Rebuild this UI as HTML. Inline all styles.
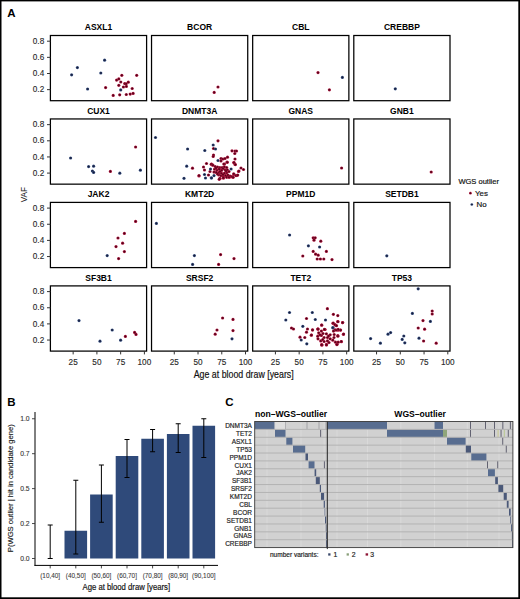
<!DOCTYPE html>
<html><head><meta charset="utf-8"><style>
html,body{margin:0;padding:0;background:#fff;}
svg{display:block;font-family:"Liberation Sans", sans-serif;}
</style></head><body>
<svg width="520" height="599" viewBox="0 0 520 599">
<defs>
<radialGradient id="gr"><stop offset="0" stop-color="#3c0012"/><stop offset="0.55" stop-color="#7a0a28"/><stop offset="1" stop-color="#b5153f"/></radialGradient>
<radialGradient id="gb"><stop offset="0" stop-color="#151a30"/><stop offset="0.55" stop-color="#24315a"/><stop offset="1" stop-color="#3a5688"/></radialGradient>
</defs>
<rect x="0" y="0" width="520" height="599" fill="#fff"/>
<rect x="0" y="0" width="1.5" height="599" fill="#000"/>
<rect x="0" y="0" width="520" height="1.4" fill="#000"/>
<rect x="518.3" y="0" width="1.7" height="599" fill="#000"/>
<rect x="0" y="597.3" width="520" height="1.7" fill="#000"/>
<text x="7.30" y="16.70" font-size="11.5" text-anchor="start" font-weight="bold" fill="#000" >A</text>
<text x="7.30" y="405.50" font-size="11.5" text-anchor="start" font-weight="bold" fill="#000" >B</text>
<text x="225.30" y="405.50" font-size="11.5" text-anchor="start" font-weight="bold" fill="#000" >C</text>
<text x="98.50" y="30.40" font-size="8.5" text-anchor="middle" font-weight="bold" fill="#000" >ASXL1</text>
<circle cx="71.6" cy="74.8" r="1.6" fill="url(#gb)"/>
<circle cx="77.4" cy="67.6" r="1.6" fill="url(#gb)"/>
<circle cx="104.6" cy="60.2" r="1.6" fill="url(#gb)"/>
<circle cx="100.8" cy="73.0" r="1.6" fill="url(#gb)"/>
<circle cx="87.6" cy="89.0" r="1.6" fill="url(#gb)"/>
<circle cx="105.6" cy="87.6" r="1.6" fill="url(#gr)"/>
<circle cx="121.8" cy="75.3" r="1.6" fill="url(#gr)"/>
<circle cx="136.7" cy="75.3" r="1.6" fill="url(#gr)"/>
<circle cx="116.6" cy="80.1" r="1.6" fill="url(#gr)"/>
<circle cx="118.8" cy="78.9" r="1.6" fill="url(#gr)"/>
<circle cx="120.8" cy="82.0" r="1.6" fill="url(#gr)"/>
<circle cx="118.8" cy="85.3" r="1.6" fill="url(#gr)"/>
<circle cx="124.7" cy="83.6" r="1.6" fill="url(#gr)"/>
<circle cx="126.2" cy="83.8" r="1.6" fill="url(#gr)"/>
<circle cx="128.3" cy="82.2" r="1.6" fill="url(#gr)"/>
<circle cx="126.4" cy="86.4" r="1.6" fill="url(#gr)"/>
<circle cx="123.4" cy="87.0" r="1.6" fill="url(#gr)"/>
<circle cx="132.2" cy="88.5" r="1.6" fill="url(#gr)"/>
<circle cx="113.2" cy="95.4" r="1.6" fill="url(#gr)"/>
<circle cx="119.7" cy="94.8" r="1.6" fill="url(#gr)"/>
<circle cx="126.3" cy="94.5" r="1.6" fill="url(#gr)"/>
<circle cx="130.2" cy="94.1" r="1.6" fill="url(#gr)"/>
<circle cx="133.1" cy="93.4" r="1.6" fill="url(#gr)"/>
<circle cx="120.7" cy="89.9" r="1.6" fill="url(#gb)"/>
<rect x="50.4" y="35.5" width="96.2" height="65.2" fill="none" stroke="#000" stroke-width="1.25"/>
<text x="199.63" y="30.40" font-size="8.5" text-anchor="middle" font-weight="bold" fill="#000" >BCOR</text>
<circle cx="218.0" cy="87.0" r="1.6" fill="url(#gr)"/>
<circle cx="214.2" cy="92.4" r="1.6" fill="url(#gr)"/>
<rect x="151.53" y="35.5" width="96.2" height="65.2" fill="none" stroke="#000" stroke-width="1.25"/>
<text x="300.77" y="30.40" font-size="8.5" text-anchor="middle" font-weight="bold" fill="#000" >CBL</text>
<circle cx="318.0" cy="72.6" r="1.6" fill="url(#gr)"/>
<circle cx="342.4" cy="77.4" r="1.6" fill="url(#gb)"/>
<circle cx="329.4" cy="89.8" r="1.6" fill="url(#gr)"/>
<rect x="252.67" y="35.5" width="96.2" height="65.2" fill="none" stroke="#000" stroke-width="1.25"/>
<text x="401.90" y="30.40" font-size="8.5" text-anchor="middle" font-weight="bold" fill="#000" >CREBBP</text>
<circle cx="395.3" cy="88.8" r="1.6" fill="url(#gb)"/>
<rect x="353.8" y="35.5" width="96.2" height="65.2" fill="none" stroke="#000" stroke-width="1.25"/>
<line x1="47.0" y1="41.20" x2="50.4" y2="41.20" stroke="#333" stroke-width="1"/>
<text x="44.20" y="43.80" font-size="8.2" text-anchor="end" font-weight="normal" fill="#282828" stroke="#282828" stroke-width="0.12" >0.8</text>
<line x1="47.0" y1="57.35" x2="50.4" y2="57.35" stroke="#333" stroke-width="1"/>
<text x="44.20" y="59.95" font-size="8.2" text-anchor="end" font-weight="normal" fill="#282828" stroke="#282828" stroke-width="0.12" >0.6</text>
<line x1="47.0" y1="73.50" x2="50.4" y2="73.50" stroke="#333" stroke-width="1"/>
<text x="44.20" y="76.10" font-size="8.2" text-anchor="end" font-weight="normal" fill="#282828" stroke="#282828" stroke-width="0.12" >0.4</text>
<line x1="47.0" y1="89.65" x2="50.4" y2="89.65" stroke="#333" stroke-width="1"/>
<text x="44.20" y="92.25" font-size="8.2" text-anchor="end" font-weight="normal" fill="#282828" stroke="#282828" stroke-width="0.12" >0.2</text>
<text x="98.50" y="113.85" font-size="8.5" text-anchor="middle" font-weight="bold" fill="#000" >CUX1</text>
<circle cx="70.6" cy="158.0" r="1.6" fill="url(#gb)"/>
<circle cx="88.6" cy="166.6" r="1.6" fill="url(#gb)"/>
<circle cx="93.6" cy="166.2" r="1.6" fill="url(#gb)"/>
<circle cx="92.4" cy="171.0" r="1.6" fill="url(#gb)"/>
<circle cx="93.6" cy="172.4" r="1.6" fill="url(#gb)"/>
<circle cx="110.4" cy="171.4" r="1.6" fill="url(#gr)"/>
<circle cx="119.8" cy="173.2" r="1.6" fill="url(#gb)"/>
<circle cx="135.6" cy="147.0" r="1.6" fill="url(#gr)"/>
<circle cx="140.4" cy="170.2" r="1.6" fill="url(#gb)"/>
<rect x="50.4" y="118.95" width="96.2" height="65.2" fill="none" stroke="#000" stroke-width="1.25"/>
<text x="199.63" y="113.85" font-size="8.5" text-anchor="middle" font-weight="bold" fill="#000" >DNMT3A</text>
<circle cx="155.5" cy="137.5" r="1.6" fill="url(#gb)"/>
<circle cx="187.6" cy="149.0" r="1.6" fill="url(#gb)"/>
<circle cx="186.7" cy="166.2" r="1.6" fill="url(#gb)"/>
<circle cx="192.5" cy="168.2" r="1.6" fill="url(#gr)"/>
<circle cx="199.0" cy="176.0" r="1.6" fill="url(#gr)"/>
<circle cx="184.0" cy="178.3" r="1.6" fill="url(#gb)"/>
<circle cx="218.0" cy="140.8" r="1.6" fill="url(#gr)"/>
<circle cx="213.2" cy="145.0" r="1.6" fill="url(#gb)"/>
<circle cx="213.5" cy="148.5" r="1.6" fill="url(#gr)"/>
<circle cx="215.5" cy="149.0" r="1.6" fill="url(#gb)"/>
<circle cx="204.8" cy="150.5" r="1.6" fill="url(#gb)"/>
<circle cx="213.5" cy="155.0" r="1.6" fill="url(#gr)"/>
<circle cx="213.2" cy="156.5" r="1.6" fill="url(#gr)"/>
<circle cx="232.0" cy="150.8" r="1.6" fill="url(#gr)"/>
<circle cx="235.0" cy="151.0" r="1.6" fill="url(#gr)"/>
<circle cx="236.5" cy="151.0" r="1.6" fill="url(#gr)"/>
<circle cx="234.8" cy="153.5" r="1.6" fill="url(#gr)"/>
<circle cx="221.0" cy="158.5" r="1.6" fill="url(#gr)"/>
<circle cx="223.0" cy="159.0" r="1.6" fill="url(#gr)"/>
<circle cx="227.5" cy="157.2" r="1.6" fill="url(#gr)"/>
<circle cx="225.0" cy="158.5" r="1.6" fill="url(#gr)"/>
<circle cx="218.0" cy="160.5" r="1.6" fill="url(#gb)"/>
<circle cx="221.0" cy="161.0" r="1.6" fill="url(#gr)"/>
<circle cx="235.0" cy="159.0" r="1.6" fill="url(#gr)"/>
<circle cx="233.8" cy="162.5" r="1.6" fill="url(#gr)"/>
<circle cx="235.0" cy="164.5" r="1.6" fill="url(#gr)"/>
<circle cx="227.0" cy="162.0" r="1.6" fill="url(#gr)"/>
<circle cx="224.5" cy="164.0" r="1.6" fill="url(#gr)"/>
<circle cx="206.5" cy="163.5" r="1.6" fill="url(#gr)"/>
<circle cx="211.5" cy="164.0" r="1.6" fill="url(#gr)"/>
<circle cx="212.5" cy="165.0" r="1.6" fill="url(#gr)"/>
<circle cx="203.5" cy="167.0" r="1.6" fill="url(#gr)"/>
<circle cx="204.5" cy="170.0" r="1.6" fill="url(#gr)"/>
<circle cx="210.0" cy="171.5" r="1.6" fill="url(#gr)"/>
<circle cx="241.0" cy="168.0" r="1.6" fill="url(#gr)"/>
<circle cx="243.5" cy="169.5" r="1.6" fill="url(#gr)"/>
<circle cx="238.5" cy="171.5" r="1.6" fill="url(#gr)"/>
<circle cx="208.5" cy="175.0" r="1.6" fill="url(#gr)"/>
<circle cx="199.0" cy="175.5" r="1.6" fill="url(#gr)"/>
<circle cx="234.0" cy="174.5" r="1.6" fill="url(#gr)"/>
<circle cx="237.0" cy="175.5" r="1.6" fill="url(#gr)"/>
<circle cx="233.0" cy="177.0" r="1.6" fill="url(#gr)"/>
<circle cx="220.0" cy="178.5" r="1.6" fill="url(#gr)"/>
<circle cx="223.5" cy="178.0" r="1.6" fill="url(#gr)"/>
<circle cx="228.0" cy="176.0" r="1.6" fill="url(#gr)"/>
<circle cx="230.0" cy="177.0" r="1.6" fill="url(#gr)"/>
<circle cx="211.2" cy="164.3" r="1.6" fill="url(#gr)"/>
<circle cx="212.9" cy="165.2" r="1.6" fill="url(#gr)"/>
<circle cx="215.2" cy="166.5" r="1.6" fill="url(#gr)"/>
<circle cx="217.5" cy="167.0" r="1.6" fill="url(#gr)"/>
<circle cx="219.8" cy="167.5" r="1.6" fill="url(#gr)"/>
<circle cx="222.1" cy="167.5" r="1.6" fill="url(#gr)"/>
<circle cx="224.4" cy="166.9" r="1.6" fill="url(#gr)"/>
<circle cx="226.7" cy="167.5" r="1.6" fill="url(#gr)"/>
<circle cx="214.6" cy="169.2" r="1.6" fill="url(#gr)"/>
<circle cx="216.9" cy="170.1" r="1.6" fill="url(#gr)"/>
<circle cx="219.2" cy="169.2" r="1.6" fill="url(#gr)"/>
<circle cx="221.5" cy="170.4" r="1.6" fill="url(#gr)"/>
<circle cx="225.0" cy="169.8" r="1.6" fill="url(#gr)"/>
<circle cx="227.3" cy="169.8" r="1.6" fill="url(#gr)"/>
<circle cx="214.0" cy="172.1" r="1.6" fill="url(#gr)"/>
<circle cx="216.3" cy="172.4" r="1.6" fill="url(#gr)"/>
<circle cx="218.7" cy="172.7" r="1.6" fill="url(#gr)"/>
<circle cx="221.5" cy="173.3" r="1.6" fill="url(#gr)"/>
<circle cx="224.4" cy="173.3" r="1.6" fill="url(#gr)"/>
<circle cx="226.7" cy="172.7" r="1.6" fill="url(#gr)"/>
<circle cx="229.0" cy="171.5" r="1.6" fill="url(#gr)"/>
<circle cx="218.7" cy="175.0" r="1.6" fill="url(#gr)"/>
<circle cx="221.0" cy="175.6" r="1.6" fill="url(#gr)"/>
<circle cx="223.3" cy="176.2" r="1.6" fill="url(#gr)"/>
<circle cx="225.6" cy="175.6" r="1.6" fill="url(#gr)"/>
<circle cx="227.9" cy="175.0" r="1.6" fill="url(#gr)"/>
<circle cx="230.2" cy="176.2" r="1.6" fill="url(#gr)"/>
<circle cx="231.9" cy="176.7" r="1.6" fill="url(#gr)"/>
<circle cx="219.8" cy="178.5" r="1.6" fill="url(#gr)"/>
<circle cx="223.3" cy="177.9" r="1.6" fill="url(#gr)"/>
<circle cx="226.7" cy="177.3" r="1.6" fill="url(#gr)"/>
<circle cx="229.0" cy="177.3" r="1.6" fill="url(#gr)"/>
<circle cx="233.1" cy="177.3" r="1.6" fill="url(#gr)"/>
<circle cx="219.2" cy="179.3" r="1.6" fill="url(#gr)"/>
<circle cx="233.7" cy="173.8" r="1.6" fill="url(#gr)"/>
<circle cx="236.0" cy="175.6" r="1.6" fill="url(#gr)"/>
<circle cx="237.7" cy="175.0" r="1.6" fill="url(#gr)"/>
<circle cx="238.9" cy="171.0" r="1.6" fill="url(#gr)"/>
<circle cx="223.8" cy="164.0" r="1.6" fill="url(#gr)"/>
<circle cx="227.3" cy="162.3" r="1.6" fill="url(#gr)"/>
<circle cx="234.0" cy="162.6" r="1.6" fill="url(#gr)"/>
<circle cx="235.4" cy="164.6" r="1.6" fill="url(#gr)"/>
<circle cx="216.0" cy="168.0" r="1.6" fill="url(#gr)"/>
<circle cx="223.0" cy="168.5" r="1.6" fill="url(#gr)"/>
<circle cx="220.0" cy="171.5" r="1.6" fill="url(#gr)"/>
<circle cx="226.0" cy="171.0" r="1.6" fill="url(#gr)"/>
<circle cx="217.5" cy="174.0" r="1.6" fill="url(#gr)"/>
<circle cx="223.0" cy="174.5" r="1.6" fill="url(#gr)"/>
<circle cx="210.5" cy="169.0" r="1.6" fill="url(#gb)"/>
<circle cx="231.1" cy="169.0" r="1.6" fill="url(#gb)"/>
<circle cx="214.0" cy="175.6" r="1.6" fill="url(#gb)"/>
<circle cx="211.3" cy="177.8" r="1.6" fill="url(#gb)"/>
<circle cx="204.5" cy="174.5" r="1.6" fill="url(#gb)"/>
<circle cx="205.5" cy="178.0" r="1.6" fill="url(#gb)"/>
<circle cx="211.5" cy="178.0" r="1.6" fill="url(#gb)"/>
<rect x="151.53" y="118.95" width="96.2" height="65.2" fill="none" stroke="#000" stroke-width="1.25"/>
<text x="300.77" y="113.85" font-size="8.5" text-anchor="middle" font-weight="bold" fill="#000" >GNAS</text>
<circle cx="341.6" cy="168.0" r="1.6" fill="url(#gr)"/>
<rect x="252.67" y="118.95" width="96.2" height="65.2" fill="none" stroke="#000" stroke-width="1.25"/>
<text x="401.90" y="113.85" font-size="8.5" text-anchor="middle" font-weight="bold" fill="#000" >GNB1</text>
<circle cx="431.2" cy="172.0" r="1.6" fill="url(#gr)"/>
<rect x="353.8" y="118.95" width="96.2" height="65.2" fill="none" stroke="#000" stroke-width="1.25"/>
<line x1="47.0" y1="124.65" x2="50.4" y2="124.65" stroke="#333" stroke-width="1"/>
<text x="44.20" y="127.25" font-size="8.2" text-anchor="end" font-weight="normal" fill="#282828" stroke="#282828" stroke-width="0.12" >0.8</text>
<line x1="47.0" y1="140.80" x2="50.4" y2="140.80" stroke="#333" stroke-width="1"/>
<text x="44.20" y="143.40" font-size="8.2" text-anchor="end" font-weight="normal" fill="#282828" stroke="#282828" stroke-width="0.12" >0.6</text>
<line x1="47.0" y1="156.95" x2="50.4" y2="156.95" stroke="#333" stroke-width="1"/>
<text x="44.20" y="159.55" font-size="8.2" text-anchor="end" font-weight="normal" fill="#282828" stroke="#282828" stroke-width="0.12" >0.4</text>
<line x1="47.0" y1="173.10" x2="50.4" y2="173.10" stroke="#333" stroke-width="1"/>
<text x="44.20" y="175.70" font-size="8.2" text-anchor="end" font-weight="normal" fill="#282828" stroke="#282828" stroke-width="0.12" >0.2</text>
<text x="98.50" y="197.30" font-size="8.5" text-anchor="middle" font-weight="bold" fill="#000" >JAK2</text>
<circle cx="135.6" cy="221.4" r="1.6" fill="url(#gr)"/>
<circle cx="124.4" cy="233.4" r="1.6" fill="url(#gr)"/>
<circle cx="118.0" cy="238.0" r="1.6" fill="url(#gr)"/>
<circle cx="122.6" cy="243.2" r="1.6" fill="url(#gr)"/>
<circle cx="116.0" cy="246.6" r="1.6" fill="url(#gr)"/>
<circle cx="124.4" cy="251.6" r="1.6" fill="url(#gr)"/>
<circle cx="107.2" cy="255.6" r="1.6" fill="url(#gb)"/>
<circle cx="118.6" cy="258.6" r="1.6" fill="url(#gr)"/>
<rect x="50.4" y="202.4" width="96.2" height="65.2" fill="none" stroke="#000" stroke-width="1.25"/>
<text x="199.63" y="197.30" font-size="8.5" text-anchor="middle" font-weight="bold" fill="#000" >KMT2D</text>
<circle cx="156.4" cy="223.4" r="1.6" fill="url(#gb)"/>
<circle cx="194.4" cy="255.6" r="1.6" fill="url(#gb)"/>
<circle cx="192.6" cy="264.4" r="1.6" fill="url(#gb)"/>
<circle cx="220.6" cy="254.6" r="1.6" fill="url(#gr)"/>
<circle cx="234.0" cy="258.6" r="1.6" fill="url(#gr)"/>
<circle cx="218.6" cy="264.4" r="1.6" fill="url(#gr)"/>
<rect x="151.53" y="202.4" width="96.2" height="65.2" fill="none" stroke="#000" stroke-width="1.25"/>
<text x="300.77" y="197.30" font-size="8.5" text-anchor="middle" font-weight="bold" fill="#000" >PPM1D</text>
<circle cx="289.6" cy="235.0" r="1.6" fill="url(#gb)"/>
<circle cx="313.2" cy="237.8" r="1.6" fill="url(#gr)"/>
<circle cx="315.2" cy="237.8" r="1.6" fill="url(#gr)"/>
<circle cx="314.0" cy="240.2" r="1.6" fill="url(#gr)"/>
<circle cx="320.8" cy="241.2" r="1.6" fill="url(#gr)"/>
<circle cx="308.4" cy="245.8" r="1.6" fill="url(#gb)"/>
<circle cx="319.6" cy="247.0" r="1.6" fill="url(#gb)"/>
<circle cx="313.2" cy="251.4" r="1.6" fill="url(#gr)"/>
<circle cx="326.4" cy="251.4" r="1.6" fill="url(#gr)"/>
<circle cx="315.6" cy="254.2" r="1.6" fill="url(#gr)"/>
<circle cx="318.2" cy="255.2" r="1.6" fill="url(#gr)"/>
<circle cx="302.8" cy="256.0" r="1.6" fill="url(#gr)"/>
<circle cx="317.2" cy="259.0" r="1.6" fill="url(#gr)"/>
<circle cx="320.4" cy="259.0" r="1.6" fill="url(#gr)"/>
<circle cx="323.8" cy="259.0" r="1.6" fill="url(#gr)"/>
<circle cx="332.0" cy="259.6" r="1.6" fill="url(#gr)"/>
<rect x="252.67" y="202.4" width="96.2" height="65.2" fill="none" stroke="#000" stroke-width="1.25"/>
<text x="401.90" y="197.30" font-size="8.5" text-anchor="middle" font-weight="bold" fill="#000" >SETDB1</text>
<circle cx="386.8" cy="255.8" r="1.6" fill="url(#gb)"/>
<rect x="353.8" y="202.4" width="96.2" height="65.2" fill="none" stroke="#000" stroke-width="1.25"/>
<line x1="47.0" y1="208.10" x2="50.4" y2="208.10" stroke="#333" stroke-width="1"/>
<text x="44.20" y="210.70" font-size="8.2" text-anchor="end" font-weight="normal" fill="#282828" stroke="#282828" stroke-width="0.12" >0.8</text>
<line x1="47.0" y1="224.25" x2="50.4" y2="224.25" stroke="#333" stroke-width="1"/>
<text x="44.20" y="226.85" font-size="8.2" text-anchor="end" font-weight="normal" fill="#282828" stroke="#282828" stroke-width="0.12" >0.6</text>
<line x1="47.0" y1="240.40" x2="50.4" y2="240.40" stroke="#333" stroke-width="1"/>
<text x="44.20" y="243.00" font-size="8.2" text-anchor="end" font-weight="normal" fill="#282828" stroke="#282828" stroke-width="0.12" >0.4</text>
<line x1="47.0" y1="256.55" x2="50.4" y2="256.55" stroke="#333" stroke-width="1"/>
<text x="44.20" y="259.15" font-size="8.2" text-anchor="end" font-weight="normal" fill="#282828" stroke="#282828" stroke-width="0.12" >0.2</text>
<text x="98.50" y="280.80" font-size="8.5" text-anchor="middle" font-weight="bold" fill="#000" >SF3B1</text>
<circle cx="79.0" cy="320.6" r="1.6" fill="url(#gb)"/>
<circle cx="112.2" cy="330.0" r="1.6" fill="url(#gb)"/>
<circle cx="100.0" cy="341.2" r="1.6" fill="url(#gb)"/>
<circle cx="120.6" cy="340.2" r="1.6" fill="url(#gb)"/>
<circle cx="125.4" cy="336.4" r="1.6" fill="url(#gr)"/>
<circle cx="134.6" cy="332.4" r="1.6" fill="url(#gr)"/>
<circle cx="136.0" cy="334.4" r="1.6" fill="url(#gr)"/>
<rect x="50.4" y="285.9" width="96.2" height="65.2" fill="none" stroke="#000" stroke-width="1.25"/>
<text x="199.63" y="280.80" font-size="8.5" text-anchor="middle" font-weight="bold" fill="#000" >SRSF2</text>
<circle cx="222.6" cy="318.0" r="1.6" fill="url(#gr)"/>
<circle cx="233.0" cy="319.4" r="1.6" fill="url(#gr)"/>
<circle cx="217.0" cy="330.0" r="1.6" fill="url(#gr)"/>
<circle cx="233.0" cy="330.6" r="1.6" fill="url(#gr)"/>
<circle cx="215.2" cy="334.2" r="1.6" fill="url(#gr)"/>
<circle cx="232.0" cy="338.8" r="1.6" fill="url(#gb)"/>
<rect x="151.53" y="285.9" width="96.2" height="65.2" fill="none" stroke="#000" stroke-width="1.25"/>
<text x="300.77" y="280.80" font-size="8.5" text-anchor="middle" font-weight="bold" fill="#000" >TET2</text>
<circle cx="289.5" cy="312.5" r="1.6" fill="url(#gb)"/>
<circle cx="285.8" cy="320.0" r="1.6" fill="url(#gb)"/>
<circle cx="327.4" cy="308.7" r="1.6" fill="url(#gr)"/>
<circle cx="312.3" cy="312.5" r="1.6" fill="url(#gb)"/>
<circle cx="333.4" cy="314.3" r="1.6" fill="url(#gr)"/>
<circle cx="337.8" cy="315.6" r="1.6" fill="url(#gr)"/>
<circle cx="306.5" cy="318.5" r="1.6" fill="url(#gr)"/>
<circle cx="315.3" cy="319.5" r="1.6" fill="url(#gb)"/>
<circle cx="325.5" cy="320.0" r="1.6" fill="url(#gb)"/>
<circle cx="302.8" cy="326.3" r="1.6" fill="url(#gb)"/>
<circle cx="321.7" cy="325.2" r="1.6" fill="url(#gr)"/>
<circle cx="291.5" cy="328.0" r="1.6" fill="url(#gr)"/>
<circle cx="293.5" cy="329.0" r="1.6" fill="url(#gr)"/>
<circle cx="307.5" cy="329.0" r="1.6" fill="url(#gr)"/>
<circle cx="312.5" cy="329.8" r="1.6" fill="url(#gr)"/>
<circle cx="318.0" cy="329.0" r="1.6" fill="url(#gr)"/>
<circle cx="325.0" cy="329.5" r="1.6" fill="url(#gr)"/>
<circle cx="306.5" cy="332.2" r="1.6" fill="url(#gr)"/>
<circle cx="311.5" cy="335.0" r="1.6" fill="url(#gr)"/>
<circle cx="300.0" cy="337.2" r="1.6" fill="url(#gr)"/>
<circle cx="304.8" cy="337.5" r="1.6" fill="url(#gr)"/>
<circle cx="301.2" cy="340.0" r="1.6" fill="url(#gb)"/>
<circle cx="306.8" cy="343.8" r="1.6" fill="url(#gb)"/>
<circle cx="337.8" cy="321.5" r="1.6" fill="url(#gr)"/>
<circle cx="342.6" cy="322.6" r="1.6" fill="url(#gr)"/>
<circle cx="333.0" cy="323.3" r="1.6" fill="url(#gr)"/>
<circle cx="335.6" cy="325.2" r="1.6" fill="url(#gr)"/>
<circle cx="333.0" cy="327.8" r="1.6" fill="url(#gb)"/>
<circle cx="312.6" cy="330.0" r="1.6" fill="url(#gr)"/>
<circle cx="317.8" cy="329.0" r="1.6" fill="url(#gr)"/>
<circle cx="324.8" cy="329.5" r="1.6" fill="url(#gr)"/>
<circle cx="335.0" cy="329.8" r="1.6" fill="url(#gr)"/>
<circle cx="338.0" cy="330.2" r="1.6" fill="url(#gr)"/>
<circle cx="340.4" cy="330.0" r="1.6" fill="url(#gr)"/>
<circle cx="343.4" cy="334.3" r="1.6" fill="url(#gr)"/>
<circle cx="337.8" cy="335.6" r="1.6" fill="url(#gr)"/>
<circle cx="311.3" cy="335.2" r="1.6" fill="url(#gr)"/>
<circle cx="341.3" cy="341.7" r="1.6" fill="url(#gr)"/>
<circle cx="321.7" cy="344.7" r="1.6" fill="url(#gr)"/>
<circle cx="326.5" cy="344.7" r="1.6" fill="url(#gr)"/>
<circle cx="337.0" cy="344.3" r="1.6" fill="url(#gr)"/>
<circle cx="322.0" cy="345.0" r="1.6" fill="url(#gr)"/>
<circle cx="326.5" cy="344.5" r="1.6" fill="url(#gr)"/>
<circle cx="337.9" cy="321.7" r="1.6" fill="url(#gr)"/>
<circle cx="342.6" cy="322.6" r="1.6" fill="url(#gr)"/>
<circle cx="333.2" cy="323.0" r="1.6" fill="url(#gr)"/>
<circle cx="334.9" cy="324.7" r="1.6" fill="url(#gr)"/>
<circle cx="336.5" cy="325.7" r="1.6" fill="url(#gr)"/>
<circle cx="321.7" cy="325.0" r="1.6" fill="url(#gr)"/>
<circle cx="318.0" cy="329.1" r="1.6" fill="url(#gr)"/>
<circle cx="324.4" cy="329.4" r="1.6" fill="url(#gr)"/>
<circle cx="333.5" cy="331.1" r="1.6" fill="url(#gr)"/>
<circle cx="336.2" cy="330.1" r="1.6" fill="url(#gr)"/>
<circle cx="338.2" cy="329.4" r="1.6" fill="url(#gr)"/>
<circle cx="340.6" cy="330.1" r="1.6" fill="url(#gr)"/>
<circle cx="343.6" cy="334.1" r="1.6" fill="url(#gr)"/>
<circle cx="334.2" cy="334.5" r="1.6" fill="url(#gr)"/>
<circle cx="337.9" cy="336.2" r="1.6" fill="url(#gr)"/>
<circle cx="318.7" cy="332.8" r="1.6" fill="url(#gr)"/>
<circle cx="321.4" cy="331.1" r="1.6" fill="url(#gr)"/>
<circle cx="326.4" cy="333.8" r="1.6" fill="url(#gr)"/>
<circle cx="330.2" cy="334.8" r="1.6" fill="url(#gr)"/>
<circle cx="317.7" cy="336.2" r="1.6" fill="url(#gr)"/>
<circle cx="318.0" cy="338.8" r="1.6" fill="url(#gr)"/>
<circle cx="321.4" cy="335.5" r="1.6" fill="url(#gr)"/>
<circle cx="324.1" cy="337.5" r="1.6" fill="url(#gr)"/>
<circle cx="327.5" cy="337.5" r="1.6" fill="url(#gr)"/>
<circle cx="330.2" cy="338.8" r="1.6" fill="url(#gr)"/>
<circle cx="332.8" cy="340.2" r="1.6" fill="url(#gr)"/>
<circle cx="320.7" cy="340.9" r="1.6" fill="url(#gr)"/>
<circle cx="324.1" cy="341.5" r="1.6" fill="url(#gr)"/>
<circle cx="327.5" cy="340.9" r="1.6" fill="url(#gr)"/>
<circle cx="335.5" cy="342.2" r="1.6" fill="url(#gr)"/>
<circle cx="338.2" cy="342.2" r="1.6" fill="url(#gr)"/>
<circle cx="341.3" cy="341.5" r="1.6" fill="url(#gr)"/>
<circle cx="321.7" cy="344.9" r="1.6" fill="url(#gr)"/>
<circle cx="326.4" cy="344.9" r="1.6" fill="url(#gr)"/>
<circle cx="336.9" cy="344.6" r="1.6" fill="url(#gr)"/>
<circle cx="320.0" cy="334.8" r="1.6" fill="url(#gr)"/>
<circle cx="322.7" cy="339.5" r="1.6" fill="url(#gr)"/>
<circle cx="328.5" cy="336.0" r="1.6" fill="url(#gr)"/>
<circle cx="323.0" cy="333.5" r="1.6" fill="url(#gr)"/>
<circle cx="334.0" cy="337.5" r="1.6" fill="url(#gr)"/>
<circle cx="329.0" cy="342.5" r="1.6" fill="url(#gr)"/>
<circle cx="332.8" cy="327.7" r="1.6" fill="url(#gb)"/>
<rect x="252.67" y="285.9" width="96.2" height="65.2" fill="none" stroke="#000" stroke-width="1.25"/>
<text x="401.90" y="280.80" font-size="8.5" text-anchor="middle" font-weight="bold" fill="#000" >TP53</text>
<circle cx="418.2" cy="288.8" r="1.6" fill="url(#gb)"/>
<circle cx="412.4" cy="313.4" r="1.6" fill="url(#gb)"/>
<circle cx="432.2" cy="311.0" r="1.6" fill="url(#gr)"/>
<circle cx="432.2" cy="314.0" r="1.6" fill="url(#gr)"/>
<circle cx="423.0" cy="320.6" r="1.6" fill="url(#gr)"/>
<circle cx="430.4" cy="321.4" r="1.6" fill="url(#gb)"/>
<circle cx="418.2" cy="328.0" r="1.6" fill="url(#gr)"/>
<circle cx="424.6" cy="329.2" r="1.6" fill="url(#gr)"/>
<circle cx="388.0" cy="334.2" r="1.6" fill="url(#gb)"/>
<circle cx="390.6" cy="332.6" r="1.6" fill="url(#gb)"/>
<circle cx="403.8" cy="336.0" r="1.6" fill="url(#gb)"/>
<circle cx="402.2" cy="339.4" r="1.6" fill="url(#gb)"/>
<circle cx="404.8" cy="342.8" r="1.6" fill="url(#gb)"/>
<circle cx="370.6" cy="338.6" r="1.6" fill="url(#gb)"/>
<circle cx="380.4" cy="343.2" r="1.6" fill="url(#gb)"/>
<circle cx="419.0" cy="338.2" r="1.6" fill="url(#gb)"/>
<circle cx="423.6" cy="341.0" r="1.6" fill="url(#gr)"/>
<circle cx="436.2" cy="343.2" r="1.6" fill="url(#gr)"/>
<rect x="353.8" y="285.9" width="96.2" height="65.2" fill="none" stroke="#000" stroke-width="1.25"/>
<line x1="47.0" y1="291.60" x2="50.4" y2="291.60" stroke="#333" stroke-width="1"/>
<text x="44.20" y="294.20" font-size="8.2" text-anchor="end" font-weight="normal" fill="#282828" stroke="#282828" stroke-width="0.12" >0.8</text>
<line x1="47.0" y1="307.75" x2="50.4" y2="307.75" stroke="#333" stroke-width="1"/>
<text x="44.20" y="310.35" font-size="8.2" text-anchor="end" font-weight="normal" fill="#282828" stroke="#282828" stroke-width="0.12" >0.6</text>
<line x1="47.0" y1="323.90" x2="50.4" y2="323.90" stroke="#333" stroke-width="1"/>
<text x="44.20" y="326.50" font-size="8.2" text-anchor="end" font-weight="normal" fill="#282828" stroke="#282828" stroke-width="0.12" >0.4</text>
<line x1="47.0" y1="340.05" x2="50.4" y2="340.05" stroke="#333" stroke-width="1"/>
<text x="44.20" y="342.65" font-size="8.2" text-anchor="end" font-weight="normal" fill="#282828" stroke="#282828" stroke-width="0.12" >0.2</text>
<line x1="73.15" y1="351.10" x2="73.15" y2="354.40" stroke="#333" stroke-width="1"/>
<text x="73.15" y="364.80" font-size="8.2" text-anchor="middle" font-weight="normal" fill="#282828" stroke="#282828" stroke-width="0.12" >25</text>
<line x1="96.90" y1="351.10" x2="96.90" y2="354.40" stroke="#333" stroke-width="1"/>
<text x="96.90" y="364.80" font-size="8.2" text-anchor="middle" font-weight="normal" fill="#282828" stroke="#282828" stroke-width="0.12" >50</text>
<line x1="120.65" y1="351.10" x2="120.65" y2="354.40" stroke="#333" stroke-width="1"/>
<text x="120.65" y="364.80" font-size="8.2" text-anchor="middle" font-weight="normal" fill="#282828" stroke="#282828" stroke-width="0.12" >75</text>
<line x1="144.40" y1="351.10" x2="144.40" y2="354.40" stroke="#333" stroke-width="1"/>
<text x="144.40" y="364.80" font-size="8.2" text-anchor="middle" font-weight="normal" fill="#282828" stroke="#282828" stroke-width="0.12" >100</text>
<line x1="174.28" y1="351.10" x2="174.28" y2="354.40" stroke="#333" stroke-width="1"/>
<text x="174.28" y="364.80" font-size="8.2" text-anchor="middle" font-weight="normal" fill="#282828" stroke="#282828" stroke-width="0.12" >25</text>
<line x1="198.03" y1="351.10" x2="198.03" y2="354.40" stroke="#333" stroke-width="1"/>
<text x="198.03" y="364.80" font-size="8.2" text-anchor="middle" font-weight="normal" fill="#282828" stroke="#282828" stroke-width="0.12" >50</text>
<line x1="221.78" y1="351.10" x2="221.78" y2="354.40" stroke="#333" stroke-width="1"/>
<text x="221.78" y="364.80" font-size="8.2" text-anchor="middle" font-weight="normal" fill="#282828" stroke="#282828" stroke-width="0.12" >75</text>
<line x1="245.53" y1="351.10" x2="245.53" y2="354.40" stroke="#333" stroke-width="1"/>
<text x="245.53" y="364.80" font-size="8.2" text-anchor="middle" font-weight="normal" fill="#282828" stroke="#282828" stroke-width="0.12" >100</text>
<line x1="275.42" y1="351.10" x2="275.42" y2="354.40" stroke="#333" stroke-width="1"/>
<text x="275.42" y="364.80" font-size="8.2" text-anchor="middle" font-weight="normal" fill="#282828" stroke="#282828" stroke-width="0.12" >25</text>
<line x1="299.17" y1="351.10" x2="299.17" y2="354.40" stroke="#333" stroke-width="1"/>
<text x="299.17" y="364.80" font-size="8.2" text-anchor="middle" font-weight="normal" fill="#282828" stroke="#282828" stroke-width="0.12" >50</text>
<line x1="322.92" y1="351.10" x2="322.92" y2="354.40" stroke="#333" stroke-width="1"/>
<text x="322.92" y="364.80" font-size="8.2" text-anchor="middle" font-weight="normal" fill="#282828" stroke="#282828" stroke-width="0.12" >75</text>
<line x1="346.67" y1="351.10" x2="346.67" y2="354.40" stroke="#333" stroke-width="1"/>
<text x="346.67" y="364.80" font-size="8.2" text-anchor="middle" font-weight="normal" fill="#282828" stroke="#282828" stroke-width="0.12" >100</text>
<line x1="376.55" y1="351.10" x2="376.55" y2="354.40" stroke="#333" stroke-width="1"/>
<text x="376.55" y="364.80" font-size="8.2" text-anchor="middle" font-weight="normal" fill="#282828" stroke="#282828" stroke-width="0.12" >25</text>
<line x1="400.30" y1="351.10" x2="400.30" y2="354.40" stroke="#333" stroke-width="1"/>
<text x="400.30" y="364.80" font-size="8.2" text-anchor="middle" font-weight="normal" fill="#282828" stroke="#282828" stroke-width="0.12" >50</text>
<line x1="424.05" y1="351.10" x2="424.05" y2="354.40" stroke="#333" stroke-width="1"/>
<text x="424.05" y="364.80" font-size="8.2" text-anchor="middle" font-weight="normal" fill="#282828" stroke="#282828" stroke-width="0.12" >75</text>
<line x1="447.80" y1="351.10" x2="447.80" y2="354.40" stroke="#333" stroke-width="1"/>
<text x="447.80" y="364.80" font-size="8.2" text-anchor="middle" font-weight="normal" fill="#282828" stroke="#282828" stroke-width="0.12" >100</text>
<text x="243.70" y="377.60" font-size="10" text-anchor="middle" font-weight="normal" fill="#111" stroke="#111" stroke-width="0.18" textLength="100" lengthAdjust="spacingAndGlyphs">Age at blood draw [years]</text>
<text transform="translate(26.9,194.6) rotate(-90)" x="0" y="0" font-size="9.6" text-anchor="middle" fill="#222" textLength="15.2" lengthAdjust="spacingAndGlyphs">VAF</text>
<text x="458.40" y="184.40" font-size="7.2" text-anchor="start" font-weight="normal" fill="#111" stroke="#111" stroke-width="0.18" textLength="40.6" lengthAdjust="spacingAndGlyphs">WGS outlier</text>
<circle cx="470.4" cy="193.2" r="1.35" fill="url(#gr)"/>
<text x="475.00" y="195.50" font-size="7.9" text-anchor="start" font-weight="normal" fill="#111" stroke="#111" stroke-width="0.18" >Yes</text>
<circle cx="471.8" cy="204.5" r="1.35" fill="url(#gb)"/>
<text x="476.60" y="206.90" font-size="7.9" text-anchor="start" font-weight="normal" fill="#111" stroke="#111" stroke-width="0.18" >No</text>
<rect x="64.50" y="530.75" width="22.6" height="27.75" fill="#2f4a7a"/>
<rect x="90.10" y="494.5" width="22.6" height="64.00" fill="#2f4a7a"/>
<rect x="115.70" y="456" width="22.6" height="102.50" fill="#2f4a7a"/>
<rect x="141.30" y="438.75" width="22.6" height="119.75" fill="#2f4a7a"/>
<rect x="166.90" y="434" width="22.6" height="124.50" fill="#2f4a7a"/>
<rect x="192.50" y="425.75" width="22.6" height="132.75" fill="#2f4a7a"/>
<line x1="50.20" y1="525" x2="50.20" y2="558.5" stroke="#000" stroke-width="1"/>
<line x1="47.70" y1="525" x2="52.70" y2="525" stroke="#000" stroke-width="1"/>
<line x1="47.70" y1="558.5" x2="52.70" y2="558.5" stroke="#000" stroke-width="1"/>
<line x1="50.20" y1="565.4" x2="50.20" y2="568.4" stroke="#333" stroke-width="0.9"/>
<text x="50.20" y="577.90" font-size="6.4" text-anchor="middle" font-weight="normal" fill="#3a3a3a" stroke="#3a3a3a" stroke-width="0.08" >(10,40]</text>
<line x1="75.80" y1="480.25" x2="75.80" y2="554" stroke="#000" stroke-width="1"/>
<line x1="73.30" y1="480.25" x2="78.30" y2="480.25" stroke="#000" stroke-width="1"/>
<line x1="73.30" y1="554" x2="78.30" y2="554" stroke="#000" stroke-width="1"/>
<line x1="75.80" y1="565.4" x2="75.80" y2="568.4" stroke="#333" stroke-width="0.9"/>
<text x="75.80" y="577.90" font-size="6.4" text-anchor="middle" font-weight="normal" fill="#3a3a3a" stroke="#3a3a3a" stroke-width="0.08" >(40,50]</text>
<line x1="101.40" y1="465" x2="101.40" y2="522.25" stroke="#000" stroke-width="1"/>
<line x1="98.90" y1="465" x2="103.90" y2="465" stroke="#000" stroke-width="1"/>
<line x1="98.90" y1="522.25" x2="103.90" y2="522.25" stroke="#000" stroke-width="1"/>
<line x1="101.40" y1="565.4" x2="101.40" y2="568.4" stroke="#333" stroke-width="0.9"/>
<text x="101.40" y="577.90" font-size="6.4" text-anchor="middle" font-weight="normal" fill="#3a3a3a" stroke="#3a3a3a" stroke-width="0.08" >(50,60]</text>
<line x1="127.00" y1="439.5" x2="127.00" y2="477.5" stroke="#000" stroke-width="1"/>
<line x1="124.50" y1="439.5" x2="129.50" y2="439.5" stroke="#000" stroke-width="1"/>
<line x1="124.50" y1="477.5" x2="129.50" y2="477.5" stroke="#000" stroke-width="1"/>
<line x1="127.00" y1="565.4" x2="127.00" y2="568.4" stroke="#333" stroke-width="0.9"/>
<text x="127.00" y="577.90" font-size="6.4" text-anchor="middle" font-weight="normal" fill="#3a3a3a" stroke="#3a3a3a" stroke-width="0.08" >(60,70]</text>
<line x1="152.60" y1="429.5" x2="152.60" y2="451.75" stroke="#000" stroke-width="1"/>
<line x1="150.10" y1="429.5" x2="155.10" y2="429.5" stroke="#000" stroke-width="1"/>
<line x1="150.10" y1="451.75" x2="155.10" y2="451.75" stroke="#000" stroke-width="1"/>
<line x1="152.60" y1="565.4" x2="152.60" y2="568.4" stroke="#333" stroke-width="0.9"/>
<text x="152.60" y="577.90" font-size="6.4" text-anchor="middle" font-weight="normal" fill="#3a3a3a" stroke="#3a3a3a" stroke-width="0.08" >(70,80]</text>
<line x1="178.20" y1="423.75" x2="178.20" y2="452.5" stroke="#000" stroke-width="1"/>
<line x1="175.70" y1="423.75" x2="180.70" y2="423.75" stroke="#000" stroke-width="1"/>
<line x1="175.70" y1="452.5" x2="180.70" y2="452.5" stroke="#000" stroke-width="1"/>
<line x1="178.20" y1="565.4" x2="178.20" y2="568.4" stroke="#333" stroke-width="0.9"/>
<text x="178.20" y="577.90" font-size="6.4" text-anchor="middle" font-weight="normal" fill="#3a3a3a" stroke="#3a3a3a" stroke-width="0.08" >(80,90]</text>
<line x1="203.80" y1="418.75" x2="203.80" y2="457.5" stroke="#000" stroke-width="1"/>
<line x1="201.30" y1="418.75" x2="206.30" y2="418.75" stroke="#000" stroke-width="1"/>
<line x1="201.30" y1="457.5" x2="206.30" y2="457.5" stroke="#000" stroke-width="1"/>
<line x1="203.80" y1="565.4" x2="203.80" y2="568.4" stroke="#333" stroke-width="0.9"/>
<text x="203.80" y="577.90" font-size="6.4" text-anchor="middle" font-weight="normal" fill="#3a3a3a" stroke="#3a3a3a" stroke-width="0.08" >(90,100]</text>
<line x1="35" y1="412" x2="35" y2="565.9" stroke="#000" stroke-width="1"/>
<line x1="34.5" y1="565.4" x2="218" y2="565.4" stroke="#000" stroke-width="1"/>
<line x1="32" y1="558.50" x2="35" y2="558.50" stroke="#333" stroke-width="0.9"/>
<text x="29.60" y="560.90" font-size="6.8" text-anchor="end" font-weight="normal" fill="#333" stroke="#333" stroke-width="0.1" >0.0</text>
<line x1="32" y1="523.56" x2="35" y2="523.56" stroke="#333" stroke-width="0.9"/>
<text x="29.60" y="525.96" font-size="6.8" text-anchor="end" font-weight="normal" fill="#333" stroke="#333" stroke-width="0.1" >0.2</text>
<line x1="32" y1="488.62" x2="35" y2="488.62" stroke="#333" stroke-width="0.9"/>
<text x="29.60" y="491.02" font-size="6.8" text-anchor="end" font-weight="normal" fill="#333" stroke="#333" stroke-width="0.1" >0.5</text>
<line x1="32" y1="453.69" x2="35" y2="453.69" stroke="#333" stroke-width="0.9"/>
<text x="29.60" y="456.09" font-size="6.8" text-anchor="end" font-weight="normal" fill="#333" stroke="#333" stroke-width="0.1" >0.7</text>
<line x1="32" y1="418.75" x2="35" y2="418.75" stroke="#333" stroke-width="0.9"/>
<text x="29.60" y="421.15" font-size="6.8" text-anchor="end" font-weight="normal" fill="#333" stroke="#333" stroke-width="0.1" >1.0</text>
<text x="126.30" y="589.80" font-size="8.4" text-anchor="middle" font-weight="normal" fill="#111" stroke="#111" stroke-width="0.18" textLength="87.5" lengthAdjust="spacingAndGlyphs">Age at blood draw [years]</text>
<text transform="translate(13.1,488.2) rotate(-90)" x="0" y="0" font-size="7.3" text-anchor="middle" fill="#1a1a1a" stroke="#1a1a1a" stroke-width="0.15" textLength="128" lengthAdjust="spacingAndGlyphs">P(WGS outlier | hit in candidate gene)</text>
<rect x="254.7" y="421.5" width="258.2" height="126.10000000000002" fill="#d1d1d1"/>
<rect x="266.5" y="421.5" width="1" height="126.10000000000002" fill="#dadada"/>
<rect x="300.5" y="421.5" width="1" height="126.10000000000002" fill="#dadada"/>
<rect x="323.6" y="421.5" width="1" height="126.10000000000002" fill="#dadada"/>
<rect x="336.5" y="421.5" width="1" height="126.10000000000002" fill="#dadada"/>
<rect x="367.0" y="421.5" width="1" height="126.10000000000002" fill="#dadada"/>
<rect x="400.3" y="421.5" width="1" height="126.10000000000002" fill="#dadada"/>
<rect x="434.0" y="421.5" width="1" height="126.10000000000002" fill="#dadada"/>
<rect x="466.8" y="421.5" width="1" height="126.10000000000002" fill="#dadada"/>
<rect x="498.5" y="421.5" width="1" height="126.10000000000002" fill="#dadada"/>
<rect x="254.70" y="421.50" width="19.70" height="7.881" fill="#586d90"/>
<rect x="275.00" y="429.38" width="10.50" height="7.881" fill="#586d90"/>
<rect x="286.30" y="437.26" width="6.10" height="7.881" fill="#586d90"/>
<rect x="293.00" y="445.14" width="12.20" height="7.881" fill="#586d90"/>
<rect x="305.50" y="453.02" width="2.50" height="7.881" fill="#4a5878"/>
<rect x="308.60" y="460.91" width="5.90" height="7.881" fill="#586d90"/>
<rect x="314.60" y="468.79" width="1.60" height="7.881" fill="#4a5878"/>
<rect x="315.80" y="476.67" width="4.00" height="7.881" fill="#4a5878"/>
<rect x="319.80" y="484.55" width="1.20" height="7.881" fill="#4a5878"/>
<rect x="321.00" y="492.43" width="3.10" height="7.881" fill="#4a5878"/>
<rect x="323.70" y="500.31" width="1.20" height="7.881" fill="#4a5878"/>
<rect x="324.60" y="508.19" width="0.60" height="7.881" fill="#4a5878"/>
<rect x="325.00" y="516.08" width="1.20" height="7.881" fill="#4a5878"/>
<rect x="325.80" y="523.96" width="0.70" height="7.881" fill="#4a5878"/>
<rect x="326.00" y="531.84" width="0.80" height="7.881" fill="#4a5878"/>
<rect x="326.20" y="539.72" width="1.10" height="7.881" fill="#4a5878"/>
<rect x="327.30" y="421.50" width="59.70" height="7.881" fill="#586d90"/>
<rect x="434.50" y="421.50" width="8.50" height="7.881" fill="#586d90"/>
<rect x="387.00" y="429.38" width="56.00" height="7.881" fill="#586d90"/>
<rect x="447.00" y="437.26" width="18.60" height="7.881" fill="#586d90"/>
<rect x="465.80" y="445.14" width="5.20" height="7.881" fill="#4a5878"/>
<rect x="471.30" y="453.02" width="15.10" height="7.881" fill="#586d90"/>
<rect x="488.00" y="468.79" width="6.90" height="7.881" fill="#586d90"/>
<rect x="495.20" y="476.67" width="2.70" height="7.881" fill="#4a5878"/>
<rect x="498.40" y="484.55" width="4.80" height="7.881" fill="#4a5878"/>
<rect x="503.70" y="492.43" width="3.10" height="7.881" fill="#4a5878"/>
<rect x="506.80" y="500.31" width="1.80" height="7.881" fill="#4a5878"/>
<rect x="509.00" y="508.19" width="1.70" height="7.881" fill="#4a5878"/>
<rect x="510.30" y="516.08" width="0.80" height="7.881" fill="#4a5878"/>
<rect x="511.10" y="523.96" width="1.00" height="7.881" fill="#4a5878"/>
<rect x="511.90" y="531.84" width="0.70" height="7.881" fill="#4a5878"/>
<rect x="512.20" y="539.72" width="0.70" height="7.881" fill="#4a5878"/>
<rect x="443" y="429.38" width="4" height="7.881" fill="#8fa57a"/>
<rect x="285.00" y="421.50" width="1" height="7.881" fill="#a4a4a8"/>
<rect x="306.50" y="421.50" width="1" height="7.881" fill="#a4a4a8"/>
<rect x="318.50" y="421.50" width="1" height="7.881" fill="#a4a4a8"/>
<rect x="325.50" y="421.50" width="1" height="7.881" fill="#a4a4a8"/>
<rect x="470.10" y="421.50" width="0.9" height="7.881" fill="#556"/>
<rect x="485.00" y="421.50" width="0.9" height="7.881" fill="#556"/>
<rect x="494.00" y="421.50" width="0.9" height="7.881" fill="#556"/>
<rect x="502.40" y="421.50" width="0.9" height="7.881" fill="#556"/>
<rect x="509.90" y="421.50" width="0.9" height="7.881" fill="#556"/>
<rect x="470.10" y="429.38" width="0.9" height="7.881" fill="#556"/>
<rect x="494.00" y="429.38" width="0.9" height="7.881" fill="#556"/>
<rect x="500.60" y="429.38" width="0.9" height="7.881" fill="#556"/>
<rect x="507.80" y="429.38" width="0.9" height="7.881" fill="#556"/>
<rect x="502.30" y="437.26" width="0.9" height="7.881" fill="#556"/>
<rect x="505.80" y="445.14" width="0.9" height="7.881" fill="#556"/>
<rect x="487.10" y="460.91" width="0.9" height="7.881" fill="#556"/>
<rect x="497.30" y="460.91" width="0.9" height="7.881" fill="#556"/>
<rect x="320.20" y="429.38" width="0.9" height="7.881" fill="#556"/>
<rect x="323.90" y="460.91" width="0.9" height="7.881" fill="#556"/>
<rect x="497.6" y="429.38" width="1" height="7.881" fill="#c8c890"/>
<rect x="503.8" y="429.38" width="1" height="7.881" fill="#b8c890"/>
<rect x="275.2" y="421.50" width="10" height="7.881" fill="#dedede"/>
<rect x="254.7" y="428.88" width="258.2" height="1" fill="#b3b3b3"/>
<rect x="254.7" y="436.76" width="258.2" height="1" fill="#b3b3b3"/>
<rect x="254.7" y="444.64" width="258.2" height="1" fill="#b3b3b3"/>
<rect x="254.7" y="452.52" width="258.2" height="1" fill="#b3b3b3"/>
<rect x="254.7" y="460.41" width="258.2" height="1" fill="#b3b3b3"/>
<rect x="254.7" y="468.29" width="258.2" height="1" fill="#b3b3b3"/>
<rect x="254.7" y="476.17" width="258.2" height="1" fill="#b3b3b3"/>
<rect x="254.7" y="484.05" width="258.2" height="1" fill="#b3b3b3"/>
<rect x="254.7" y="491.93" width="258.2" height="1" fill="#b3b3b3"/>
<rect x="254.7" y="499.81" width="258.2" height="1" fill="#b3b3b3"/>
<rect x="254.7" y="507.69" width="258.2" height="1" fill="#b3b3b3"/>
<rect x="254.7" y="515.58" width="258.2" height="1" fill="#b3b3b3"/>
<rect x="254.7" y="523.46" width="258.2" height="1" fill="#b3b3b3"/>
<rect x="254.7" y="531.34" width="258.2" height="1" fill="#b3b3b3"/>
<rect x="254.7" y="539.22" width="258.2" height="1" fill="#b3b3b3"/>
<rect x="254.7" y="421.5" width="258.2" height="126.10000000000002" fill="none" stroke="#3a3a3a" stroke-width="0.9"/>
<line x1="327.3" y1="421.5" x2="327.3" y2="549.1" stroke="#222" stroke-width="1"/>
<text x="251.90" y="428.14" font-size="6.5" text-anchor="end" font-weight="normal" fill="#1e1e1e" stroke="#1e1e1e" stroke-width="0.18" >DNMT3A</text>
<text x="251.90" y="436.02" font-size="6.5" text-anchor="end" font-weight="normal" fill="#1e1e1e" stroke="#1e1e1e" stroke-width="0.18" >TET2</text>
<text x="251.90" y="443.90" font-size="6.5" text-anchor="end" font-weight="normal" fill="#1e1e1e" stroke="#1e1e1e" stroke-width="0.18" >ASXL1</text>
<text x="251.90" y="451.78" font-size="6.5" text-anchor="end" font-weight="normal" fill="#1e1e1e" stroke="#1e1e1e" stroke-width="0.18" >TP53</text>
<text x="251.90" y="459.67" font-size="6.5" text-anchor="end" font-weight="normal" fill="#1e1e1e" stroke="#1e1e1e" stroke-width="0.18" >PPM1D</text>
<text x="251.90" y="467.55" font-size="6.5" text-anchor="end" font-weight="normal" fill="#1e1e1e" stroke="#1e1e1e" stroke-width="0.18" >CUX1</text>
<text x="251.90" y="475.43" font-size="6.5" text-anchor="end" font-weight="normal" fill="#1e1e1e" stroke="#1e1e1e" stroke-width="0.18" >JAK2</text>
<text x="251.90" y="483.31" font-size="6.5" text-anchor="end" font-weight="normal" fill="#1e1e1e" stroke="#1e1e1e" stroke-width="0.18" >SF3B1</text>
<text x="251.90" y="491.19" font-size="6.5" text-anchor="end" font-weight="normal" fill="#1e1e1e" stroke="#1e1e1e" stroke-width="0.18" >SRSF2</text>
<text x="251.90" y="499.07" font-size="6.5" text-anchor="end" font-weight="normal" fill="#1e1e1e" stroke="#1e1e1e" stroke-width="0.18" >KMT2D</text>
<text x="251.90" y="506.95" font-size="6.5" text-anchor="end" font-weight="normal" fill="#1e1e1e" stroke="#1e1e1e" stroke-width="0.18" >CBL</text>
<text x="251.90" y="514.83" font-size="6.5" text-anchor="end" font-weight="normal" fill="#1e1e1e" stroke="#1e1e1e" stroke-width="0.18" >BCOR</text>
<text x="251.90" y="522.72" font-size="6.5" text-anchor="end" font-weight="normal" fill="#1e1e1e" stroke="#1e1e1e" stroke-width="0.18" >SETDB1</text>
<text x="251.90" y="530.60" font-size="6.5" text-anchor="end" font-weight="normal" fill="#1e1e1e" stroke="#1e1e1e" stroke-width="0.18" >GNB1</text>
<text x="251.90" y="538.48" font-size="6.5" text-anchor="end" font-weight="normal" fill="#1e1e1e" stroke="#1e1e1e" stroke-width="0.18" >GNAS</text>
<text x="251.90" y="546.36" font-size="6.5" text-anchor="end" font-weight="normal" fill="#1e1e1e" stroke="#1e1e1e" stroke-width="0.18" >CREBBP</text>
<text x="291.00" y="417.00" font-size="8.6" text-anchor="middle" font-weight="bold" fill="#000" >non–WGS–outlier</text>
<text x="420.10" y="417.00" font-size="8.6" text-anchor="middle" font-weight="bold" fill="#000" >WGS–outlier</text>
<text x="270.00" y="556.50" font-size="6.6" text-anchor="start" font-weight="normal" fill="#1e1e1e" stroke="#1e1e1e" stroke-width="0.18" textLength="48.5" lengthAdjust="spacingAndGlyphs">number variants:</text>
<rect x="328.2" y="553.3" width="2.3" height="2.3" fill="#3b4a6b"/>
<text x="333.60" y="556.60" font-size="6.8" text-anchor="start" font-weight="normal" fill="#1e1e1e" stroke="#1e1e1e" stroke-width="0.18" >1</text>
<rect x="346.6" y="553.3" width="2.3" height="2.3" fill="#8aa07a"/>
<text x="351.80" y="556.60" font-size="6.8" text-anchor="start" font-weight="normal" fill="#1e1e1e" stroke="#1e1e1e" stroke-width="0.18" >2</text>
<rect x="365.6" y="553.3" width="2.5" height="2.3" fill="#8e1535"/>
<text x="370.30" y="556.60" font-size="6.8" text-anchor="start" font-weight="normal" fill="#1e1e1e" stroke="#1e1e1e" stroke-width="0.18" >3</text>
</svg>
</body></html>
